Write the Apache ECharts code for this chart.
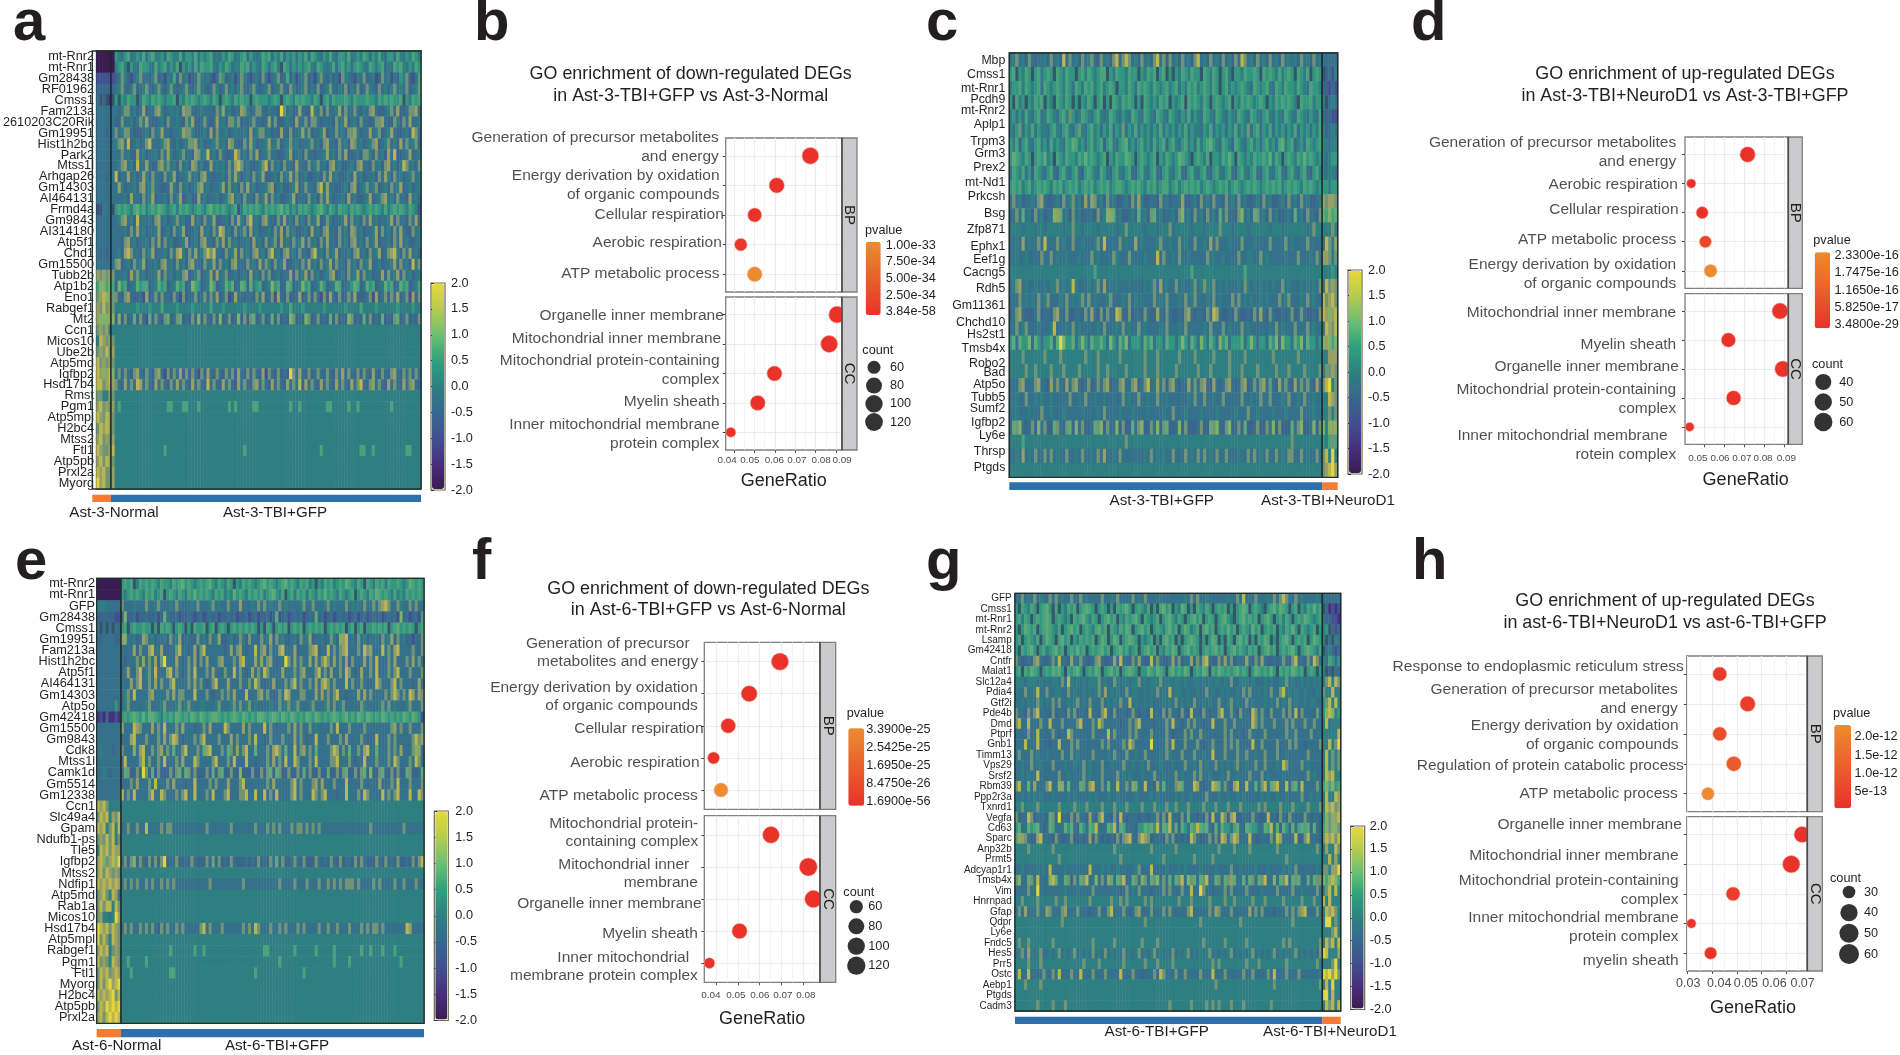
<!DOCTYPE html>
<html><head><meta charset="utf-8">
<style>html,body{margin:0;padding:0;background:#fff}#c{width:1900px;height:1055px;filter:blur(0.35px)}</style>
<script src="https://cdn.jsdelivr.net/npm/echarts@6/dist/echarts.min.js"></script>
</head><body><div id="c"></div>
<script>
// Heat-map cells are eye estimates at reduced column resolution; one character = one cell, see heatLevels.
const heatLevels=[['0',-2,'#3b1c52'],['1',-1.5,'#46307e'],['2',-1,'#41508f'],['d',-0.8,'#33566a'],['3',-0.6,'#3a668c'],['4',-0.3,'#35718b'],['5',0,'#2f7f82'],['6',0.4,'#329680'],['7',0.7,'#4aa27c'],['c',0.85,'#5dab78'],['8',1,'#6f9476'],['g',1.15,'#7fb268'],['9',1.3,'#959f66'],['a',1.6,'#bcb650'],['b',2,'#e3d63c']];
const colorbarStops=['#3b1c52','#46307e','#41508f','#36688e','#2e8080','#2fa07f','#6bbf72','#b4cc50','#e6d83a'];
const colorbarTicks=[-2,2,0.5];

const aGenes=['mt-Rnr2','mt-Rnr1','Gm28438','RF01962','Cmss1','Fam213a','2610203C20Rik','Gm19951','Hist1h2bc','Park2','Mtss1l','Arhgap26','Gm14303','AI464131','Frmd4a','Gm9843','AI314180','Atp5f1','Chd1','Gm15500','Tubb2b','Atp1b2','Eno1','Rabgef1','Mt2','Ccn1','Micos10','Ube2b','Atp5md','Igfbp2','Hsd17b4','Rmst','Pgm1','Atp5mpl','H2bc4','Mtss2','Ftl1','Atp5pb','Prxl2a','Myorg'];
const aNormal=['000000','000000','222222','333333','4d3d1d','444444','444444','444344','444444','444444','444444','444344','444444','444444','d2544d','444444','444444','444444','434344','444444','989898','7gg7g7','89ag98','98a898','9ggg9g','898955','5a9898','898a89','a89898','a9g9ag','aa89a9','885598','9a8989','a98a98','8a9a98','9a8989','a9889a','9a8a98','a9a889','b9a889'];
const aTBI=[
'6546745657 4675564765 5746657465 6745465764 5674654576 7465746564 6574765465 7546657456 5764657546 6475465765',
'5675d65476 6547567465 7d65647576 6754657645 5767465476 4675d76465 6567547654 5746756467 6547656745 4767546576',
'3485324584 4358342547 3845234854 5324863452 4853245384 2458347352 4583425843 5342854325 4834523845 2436583247',
'4584358345 8435843584 3458435854 3485348453 5843584345 8345843853 4583548345 8435483548 3485438453 5845483458',
'6d65766d57 6576765667 d657676567 6576d67657 6766d67666 5676d67657 6766576d67 5766676576 6676657676 7667d65767',
'4358845349 3448953454 5398843454 4438594534 4985348843 5443b84534 9433a54838 4459384484 3548943345 8493348894',
'3384453485 9433453844 5438593348 4349453885 8343584434 9483345439 4483884344 4384593453 8443488943 3853849445',
'8458843334 5384594434 4598853345 3938445345 4453945884 5343943834 5948344593 4484538895 3449458345 9433453a84',
'5894a34534 8a44458943 5345889453 4458453984 3384953445 9458345845 3445845389 4438453984 5345893458 3539484583',
'4484533945 3445384953 4584439845 a45384334a 8453849345 8443345934 5384434459 4538493345 3885384539 4a33459345',
'4589453a44 9433895845 3845398453 4945453849 a84533458a 3845384439 4438458453 8945334538 9443845389 4535a84538',
'a344945349 5384438459 3445845389 4434453849 5345384593 3453845948 3453345384 9453345394 5344538495 3845345845',
'4953445389 4584433495 3845345894 5344593845 3849453445 8934533459 3484438a49 4433453893 4584583453 8459345345',
'4445394438 4593445384 5934533945 3445345894 5384438459 3845334593 4438453849 5344539453 3459345894 5384439453',
'6767657c67 5676c76567 5767656765 7c67676567 2576767657 6767c67565 7676567c65 7657665767 6567676575 6767657652',
'4589453a44 4538945345 8453394538 4593345384 9538a45389 4438494538 4538459348 5344593845 3849453445 9384438493',
'4445384945 3445934538 4593345394 5384a94538 4583945344 5384938453 3453945389 4438453984 5344593845 3849433845',
'4438945344 5384938453 3459345389 4438493845 3445394538 4583945384 5938453849 4438453894 5384593445 3849453345',
'4539a84438 4593445384 9a53849458 a8a4438459 3845389453 8a45389453 84438a4538 4593445389 4538459348 9a53849453',
'8934538459 3445389453 8453894438 4593845389 4438453948 5384593345 3849453845 9384438453 8459345344 5938453a48',
'4445395845 3445938453 5489345834 5939458345 3453945384 8345344938 4593845345 8934538459 3845344938 4593845345',
'3g67345c67 7345c67345 c6734g7634 5g7345c6c3 4c73c56734 5g6734c734 5g67345c63 45c73456c7 34c67345c6 734c673457',
'8438943342 9348384438 4283448348 3849348239 4434438493 4829438334 9348384283 9438348493 3348293483 8493482938',
'5555555655 5655575555 6555565555 5755565555 5565555655 5555655755 5655555565 5555565555 7555565555 5565555655',
'3g3834c383 2c38438c34 8c34383g38 4383g34834 g3838c3483 4c38343g83 43g8348343 c38343g834 3c38343c34 38c3483438',
'5','5','5','5',
'4838438943 8438942838 4938384283 9438438483 9438384392 8438343b84 9438348438 4384938438 3843943843 8943848384',
'8439484a94 8439484384 9484394843 a484394843 9484389484 3948439484 a394843948 4394843948 a438948439 4843948943',
'5',
'5755555555 5555555775 5577555755 5555555757 5555577555 5555555755 7555555557 7555557557 5555555555 7555555555',
'5','5','5',
'5555555555 5555557555 5555555555 5555555555 5575555555 5555555555 5555555755 5555555555 7755755555 5555577555',
'5','5','5'];

const cGenes=['Mbp','Cmss1','mt-Rnr1','Pcdh9','mt-Rnr2','Aplp1','Trpm3','Grm3','Prex2','mt-Nd1','Prkcsh','Bsg','Zfp871','Ephx1','Eef1g','Cacng5','Rdh5','Gm11361','Chchd10','Hs2st1','Tmsb4x','Robo2','Bad','Atp5o','Tubb5','Sumf2','Igfbp2','Ly6e','Thrsp','Ptgds'];
const cGFP=[
'4584538434 4538453a48 4538458438 4538a48a84 5384538a48 3845384538 a453845384 5384a84538 4538453845 4538453845',
'67d6576d67 5676d76576 6d67576567 7d65766576 6d65767d67 d6d6576576 6d76576d67 5d66576676 d767657567 6d7657d676',
'5667576567 4765676576 4765767567 5676d66576 4767657656 7567465767 5676576d67 5656765476 5675476576 6576547665',
'6d756d6576 7d65d76576 d6d6576d67 d6d7657676 d6d7656576 7d6567d767 6576d67656 7d65767656 76d6576767 65d7667566',
'5646475467 4576546758 6457654675 4576546547 6547654765 4765465746 5476547654 6547654765 4675465476 5476546547',
'5468465746 5546754675 4685467564 6574658465 7465646574 6564657465 5465746564 6574658467 4657465646 5746564657',
'6573675467 5647565476 c756467567 3675467c56 4675647567 3675467564 7567c65476 5376546756 4675647c56 7356476567',
'6c76576d67 6c56d76576 6576c67656 7d65766c76 d676567d65 7656c765d6 7657d66576 c6d7656576 676c576d67 6576c67656',
'4765746376 5467436754 6743676547 6436754674 3675467436 7546743675 4674367546 7436754674 3675467436 7546743675',
'6767567567 6765767567 6756767567 6756776567 6765767567 7567567676 7567656767 5676567676 5676767567 6765767656',
'4845344548 9433453845 8453949845 3845334538 4953344384 5344593345 3845384438 4538453345 3845334538 4538453345',
'3484c45384 5344g9c453 8453344384 5g9c453345 3c4538c453 44538g4538 4538453c48 4438g453c8 4538453345 3c45384438',
'4555455545 5455555455 8554555545 5555455855 5554555455 5845555545 5545555855 5455554555 5554555455 5555545855',
'4454945448 4a44484544 8445444584 a444484544 9454444584 4544845448 4454948444 5444844454 4448444484 5444484444',
'4454454444 8448454454 4454448454 4448544484 4445444a48 4454844544 4448454454 4448445544 8454444454 4484445484',
'5555555555 5555555555 5555555755 5555555555 5555555555 5555555575 5555555555 5555575555 5555555555 5555555555',
'4589454454 4545584545 a544454584 9454544454 4445458494 5448454458 4585584545 4445485454 5454544845 4445454548',
'4448454548 4584445484 5458484544 4584445484 5454448454 8444548458 4445484544 4848454544 5454448458 4445484544',
'3489433348 3443894383 3443849438 3843a94383 4438433943 8433438943 44384a9433 4384334384 9438433434 8348433438',
'4484584445 4445a44454 8454444454 8444548454 4845444454 8444548444 4454844484 5444845444 4445484544 4844484544',
'6c4c66g4c6 466c4cbg66 c46g64c66c 64g64c6g46 664c6c4664 c6646g64c6 4g64c64g6c 4666c46g64 664c6g4g66 4c6g4c6646',
'5555855555 5855558555 5555855585 5555585555 5558555855 5555855558 5555585555 8555585555 5555855555 5585555555',
'5555585585 5558555855 5585555585 5855555855 5558555855 5558555555 8555855555 8555855558 5555585558 5555855558',
'4448944489 4439484394 8943483484 8934489448 9348a44948 3894344948 4894394348 9434893484 8948439484 3948484394',
'4454484454 5445444448 4454844544 5444448454 4844544844 5444444548 4484454484 4444844544 8448444548 4454844544',
'4454445444 8445444544 4445444454 8444454445 4444544445 4484445444 4544445444 4454448445 4444544454 4448444544',
'3c8g43483g 4833c8438c 3g48334c8g 3844g3833c 48g3384g38 c334g38333 4833c8g438 g3483c3348 3384g38333 c48g334g38',
'5555755555 5555555555 5555555555 5555555855 5555555555 5555555555 5555555555 5555555555 5555555555 8555555555',
'4454945484 4848454484 4548445484 9445484444 4445484545 4484448454 8484548448 4445448484 5484484548 8448454484',
'5'];
const cNeuroD1=['44444','d3425','33232','5d454','33322','53454','55455','54566','54554','66566','98998','c7g7c','55585','4a859','99858','55565','4a898','a89a8','a9g9a','4a98a','g9g7g','55999','58898','8ab58','55a98','55858','g5g9g','65787','8a5b5','89ab9'];

const eGenes=['mt-Rnr2','mt-Rnr1','GFP','Gm28438','Cmss1','Gm19951','Fam213a','Hist1h2bc','Atp5f1','AI464131','Gm14303','Atp5o','Gm42418','Gm15500','Gm9843','Cdk8','Mtss1l','Camk1d','Gm5514','Gm12338','Ccn1','Slc49a4','Gpam','Ndufb1-ps','Tle5','Igfbp2','Mtss2','Ndfip1','Atp5md','Rab1a','Micos10','Hsd17b4','Atp5mpl','Rabgef1','Pgm1','Ftl1','Myorg','H2bc4','Atp5pb','Prxl2a'];
const eNormal=['00000000','00000000','55544444','33333322','4d4d4d43','43444433','44444444','44444444','44444444','44444444','44444444','44444464','12131121','44444444','44444444','45444344','44444444','44543444','44444444','44444444','a9a85555','8a9a598a','a9a58a5a','898a8a58','5a9a8a99','9ag89agb','9a8a9898','a9a9a9a9','89a85a94','8a8aa5a8','895545b9','ba9a8a98','b8a85a98','9a9a5898','a8985a98','8a9a89a9','8a8ab9ab','a9a9ab8a','8a9babab','9a8ababa'];
const eTBI=[
'6767d57676 7657665767 c67656767c 6576576d65 7676567c67 6567c67657 6756d65767 5676c76576 d765767576 67656c7676',
'6567676576 7567d67657 6576c67676 5767565c67 6576767567 c657d67576 7576576c67 6576567d67 6576c76765 7565767676',
'8444544484 4584445484 4445484445 8454484449 4445484845 4484544445 8448444584 5444845454 8448489a84 4854484844',
'3g33423343 3423c43342 3343234234 3423343423 3423423342 3c23423434 2343c34234 2343423423 4234342343 42g3423427',
'67d6766766 d6d7676d67 6d6d7667d6 7d676d6767 67676d6d76 d6767d6767 d676767d67 6767d67d67 d6676767d6 7c67676d67',
'9g44534984 5344538459 3443384538 4593345348 5384438459 3845334538 4593445348 53g9a45384 5344538459 3845342438',
'4444938449 a44933448a 4434938a44 4444349489 4344a48938 449a444934 4489a344a4 8489a44484 a89444a484 9a44448438',
'4344484948 4938b44494 3484938494 4489444849 a444949489 4344b84948 4494948a84 9484938444 9484a44484 9444849484',
'449438a458 4a4449a484 3484a44484 9444844a48 4349484a84 4449444848 94448a4849 4484a84349 4484a44484 8a44484448',
'444948a448 4948448a44 4484948434 8a44494448 4484a84344 9444848a48 4484949a84 8444a48448 4344a84448 a484443494',
'4584a44448 9444484948 8444a44484 3448484944 4a44489484 3484a94448 8444949484 8a44344494 9484444848 a8484a9498',
'4584444458 4445844458 4584445544 4584445848 4584544445 4484584584 4458444584 8458444448 5444458484 5444584448',
'6767c76c6c c7657676c7 676c76c767 cc76767c76 c7676cc767 c76c76c767 6c76c76767 c767c676c7 6c7676c767 676c76c762',
'9444a98444 9484a44484 9444344849 4444a84444 9484444a48 4344484948 4484544448 4a44484444 8444444448 9484484448',
'4449a44484 4484948a94 3444848a44 4484449484 4484a44348 4448444948 4344a44484 4484944448 4344a44484 8444448a89',
'8444g49a44 8489484c44 8a44484c9a 44484c8494 8a44c44484 9a84c44a48 9484c44448 a9484c4484 9a44c44484 8494448g94',
'4a44448a48 4484a44484 9444a84444 8a44484a44 4a44344484 9484a44a84 4484a44448 8a44484344 a444844484 a844484a84',
'3c83383b83 c38333838c 3c83833383 c38c33833g 333833838c 3c83383383 c3833833c3 3838c33838 c3g338c338 3833c8333c',
'4448494448 4a44484944 4344a44448 4844494448 a444444484 9444448a48 4448949444 8444a44448 4344494448 4a44484448',
'a484a44448 a44a844484 8a44a44484 a4448a4448 8a44a44a48 4a44448a48 444a848a44 4344a44484 a84444a484 8a444a44a8',
'5','5',
'44844844a4 4448488444 4444444484 4444448444 4444844484 8484448488 4848484444 4444444444 4484444444 4448444444',
'5','5',
'3838g38438 3838b34483 3438433383 c383438433 3434383438 4c38334843 8333843438 4383443838 4333843834 383343838a',
'5',
'4848484484 8448484844 4444444448 4444444444 8444444444 4484444844 4844484484 8484888484 4448484444 8448444844',
'5','5','5',
'3848448484 8438484484 8444448a48 4448444444 8484a84448 4484844484 8444484484 4844484448 4848848444 4444a94444',
'5',
'5555555555 5555557555 5555755755 5555555555 5555555775 5555555755 5555755555 7555555557 5575557555 7555555555',
'5575555575 5555555555 5555555555 5555555555 5555555555 5575555555 5555555555 7555575555 5555555555 5575555555',
'5557555555 5555557755 5555555555 5555555555 5555755555 5555555555 7555555555 5555555555 5555555555 5555555555',
'5','5','5','5'];

const gGenes=['GFP','Cmss1','mt-Rnr1','mt-Rnr2','Lsamp','Gm42418','Cntfr','Malat1','Slc12a4','Pdia4','Gtf2i','Pde4b','Dmd','Ptprf','Gnb1','Timm13','Vps29','Srsf2','Rbm39','Ppp2r3a','Txnrd1','Vegfa','Cd63','Sparc','Anp32b','Prmt5','Adcyap1r1','Tmsb4x','Vim','Hnrnpad','Gfap','Qdpr','Ly6e','Fndc5','Hes5','Prr5','Ostc','Aebp1','Ptgds','Cadm3'];
const gGFP=[
'4484548454 4848454484 4845444484 4548444484 5484444544 4444454848 4454444445 4484a44484 4454848a84 4845444454',
'6d76576d67 c6d7d65767 d67c76d676 d6d767c6d6 7657d6d7c6 7d65c7d6d7 6576d6767d 6d67c7d676 5d67c6c76d 67d6576c67',
'67576d6767 c7d67656d7 67c6576d67 c67d65767c 6d76567d67 c6576d67c6 7d676d67c6 5d67c6767d 67c6d67576 d676c76567',
'6d6c767d67 c7657d67c6 7d67657c67 d76576c7d6 7c67d67657 c67d6c7567 d7c67d676c 67d6765c67 d6767d6576 c6d76567d6',
'67d67657d6 c76d7c67d6 576767d6c7 d6c7d67c76 d6567d6d7c 67d6d67c76 d6d6c7d6d7 6d7c67d6d7 6c7d6d67c6 d6767d6c76',
'6d767c6d67 567c67d676 c67d6767c6 7d67c67567 d67c67d657 6c7d67c676 d6767c67d6 7c6765767d 67c67d6767 c6d67c7657',
'8433438943 3484a44394 4843348943 3494a44384 9433a48433 4948344938 49a4338494 8344494384 9433434843 8a44384a84',
'67d76c76d6 76c7c6d767 c6d676c7d6 7c67d67c76 d66c76c76d 7c676c7d67 6c7d76c767 67c676d6c7 676c6d7676 c767d676d6',
'5554555454 5455484a54 5454555845 4485455455 8454555845 5455454455 4545455454 8445554544 4545445584 5445454545',
'5448445a44 8445544845 4454545849 4545448455 4454548454 a455445445 4484544545 4454848445 4548448a45 4544544454',
'4454544854 5484844545 8454844484 5454844a45 4454544454 5484545484 4545448445 8454484544 4545484548 4544545544',
'8443848a44 4383443848 3443a4438a 4383443484 3443a44383 8443843a44 3843448a44 8438443a84 8438444838 4a38444384',
'8a44a44484 4a44484444 8a44484a84 4444344848 a444444448 4a44348484 4344a44484 4844444a84 8444844484 8444844844',
'4444844a44 4484344a84 4444484444 a484444848 4444844448 4344484844 8444444484 8444348444 4844444484 4844448444',
'444a444a44 4344a44484 8444444484 8444484a84 4444b44448 4a44484448 4344844484 8484444a44 8444484448 4844344448',
'4844484544 5444484484 5444484444 5484448445 4484444548 5444844484 4544a44484 4484484454 4844484454 4444484444',
'4454484454 4484445445 4484544484 4544484454 4548444544 4544484454 8454484545 4584454484 4844454a84 4448454444',
'4454544a44 4444844544 4484544484 4448454544 4544484454 4484544484 8445444548 4454448444 8454444544 4444484544',
'8a44c49444 8a44g94c44 4c849a4484 c44a44849c 44a44394c4 4489c444a9 4344a9c484 39a44a44c4 8a4c9a44a4 8c4a444484',
'4454545454 4454444545 4444545444 5445444445 4444545444 4454544544 4484445445 4454544444 5454454454 4448445454',
'5585555855 5555855558 5558555585 5585558555 5855585558 5585558555 5855585558 5558555558 5855558555 8555585558',
'8344a83444 3c83b44383 84439438a4 4383a43444 3443448383 a44383c443 4383a44a83 9a33443843 33a4438438 4343843443',
'6c44c67c43 4c7444c6c4 3c64c7a444 c7a4c74443 66c7c6a4c7 a4c3c64c7a c7c43c4c66 47c43c7664 4c7a4c3c63 c47c7c3c43',
'8g984339a4 4438433483 3434938434 3438389a43 8a98344438 4834343a84 3348383a94 8a9444a433 44384a9443 4a338a4443',
'5555855555 5585555555 5555555555 5585555555 5555855555 5585555555 5555558555 5855558555 5555585555 5555555585',
'5555555555 5555855555 5555555555 5555855555 5555555585 5555555585 5555855555 5555555555 5555555585 5555555555',
'4454444545 4a44445444 4444a44454 5445444445 8444a44445 4445454444 5444454444 8445444454 4454444545 4844444454',
'8g44c84a44 4gac44c838 4c8a44g484 9c4c8a44c8 4g84c8g484 c4c8a4g8c4 c8a44c84c8 9c44c4c84c 8a44g4c8a4 c8c44c4c88',
'4444844b44 4444445444 5444484444 4444348454 8444344484 8444844a44 b844344484 8444484344 5444484444 8445444484',
'5585555855 5558558555 5555855555 5855858555 5585855555 5558555855 5558555585 5855555855 5855555855 5558555855',
'4849444844 9844489444 8444344844 8a44484348 9444844484 8444448a44 4448498444 8444449484 8444344484 8489a44484',
'5555555555 5555585555 5555555555 5555555555 5585555555 5555555555 8555555555 5558555555 5555555555 8555555555',
'5',
'5855855555 5585555555 5555585555 5585555555 5855558555 5555555555 5855555585 5555585555 5555555858 5555555558',
'4584954584 4545845458 4545484548 4545484545 8454584545 4845458454 5458454545 8454545845 4545845454 5845454548',
'5555855585 5555555555 5585555855 5555585555 5585558555 5855555555 5555858555 5555585558 5555555585 5555555585',
'4a44a44448 4484a44484 4a44484448 4444a44484 4344484a84 4484484444 8444a44484 4444844844 4484a44484 4484444445',
'5558555585 5555555555 5555555555 5555555555 5555555555 5555555555 5555585555 5555555555 5555855555 5555555558',
'5',
'5555555855 5585558555 5555555555 5555555555 5555555555 8555555855 5585858555 8555855555 5558555555 5555555555'];
const gNeuroD1=['444444','d31212','433221','56d323','5d4d54','d45323','547646','5d3d43','58a5a8','855a55','68a5a5','6gag56','5a4555','55555a','55a58b','5a5858','5a5858','5a9a55','7g7g67','5a55a9','5a9a89','6g8g9a','7g8gg8','8a9a8a','5955a8','55a595','88599b','g7gag7','58a5a5','a5a555','5a9a85','5bb585','5558a5','5a8a5a','ba5559','5558b5','bab9b8','5a5b55','bb5a55','5a8a5a'];

const bTerms=['Generation of precursor metabolites\nand energy','Energy derivation by oxidation\nof organic compounds','Cellular respiration','Aerobic respiration','ATP metabolic process'];
const bRatio=[0.0774,0.0609,0.0501,0.0433,0.0501];
const bCount=[99,83,69,57,77];
const bP=[1e-45,2e-42,3e-36,8e-35,1e-33];
const bTermsCC=['Organelle inner membrane','Mitochondrial inner membrane','Mitochondrial protein-containing\ncomplex','Myelin sheath','Inner mitochondrial membrane\nprotein complex'];
const bRatioCC=[0.0905,0.0866,0.0598,0.0516,0.0384];
const bCountCC=[99,102,80,80,35];
const bPCC=[1e-50,3.84e-58,1e-45,1e-42,1e-40];
const bTicks=['0.04','0.05','0.06','0.07','0.08','0.09'];
const bPLabels=['3.84e-58','2.50e-34','5.00e-34','7.50e-34','1.00e-33'];
const bCounts=['60','80','100','120'];

const dTerms=['Generation of precursor metabolites\nand energy','Aerobic respiration','Cellular respiration','ATP metabolic process','Energy derivation by oxidation\nof organic compounds'];
const dRatio=[0.0718,0.0436,0.0491,0.0507,0.0533];
const dCount=[55,20,34,34,38];
const dP=[2e-23,1e-20,4e-20,5.8e-17,2.33e-16];
const dTermsCC=['Mitochondrial inner membrane','Myelin sheath','Organelle inner membrane','Mitochondrial protein-containing\ncomplex','Inner mitochondrial membrane  \nrotein complex'];
const dRatioCC=[0.0880,0.0622,0.0894,0.0648,0.0428];
const dCountCC=[60,48,60,50,19];
const dPCC=[3.48e-29,1e-26,1e-28,1e-25,1e-22];
const dTicks=['0.05','0.06','0.07','0.08','0.09'];
const dPLabels=['3.4800e-29','5.8250e-17','1.1650e-16','1.7475e-16','2.3300e-16'];
const dCounts=['40','50','60'];

const fTerms=['Generation of precursor  \nmetabolites and energy','Energy derivation by oxidation\nof organic compounds','Cellular respiration','Aerobic respiration','ATP metabolic process'];
const fRatio=[0.0693,0.0552,0.0456,0.0389,0.0423];
const fCount=[106,91,77,51,69];
const fP=[1e-40,1e-38,1e-30,1e-29,3.39e-25];
const fTermsCC=['Mitochondrial protein-\ncontaining complex','Mitochondrial inner  \nmembrane','Organelle inner membrane','Myelin sheath','Inner mitochondrial  \nmembrane protein complex'];
const fRatioCC=[0.0652,0.0823,0.0846,0.0508,0.0370];
const fCountCC=[99,115,106,83,41];
const fPCC=[1e-38,1.69e-56,1e-50,1e-36,1e-28];
const fTicks=['0.04','0.05','0.06','0.07','0.08'];
const fPLabels=['1.6900e-56','8.4750e-26','1.6950e-25','2.5425e-25','3.3900e-25'];
const fCounts=['60','80','100','120'];

const hTerms=['Response to endoplasmic reticulum stress','Generation of precursor metabolites\nand energy','Energy derivation by oxidation\nof organic compounds','Regulation of protein catabolic process','ATP metabolic process'];
const hRatio=[0.0430,0.0543,0.0430,0.0487,0.0382];
const hCount=[40,48,40,45,33];
const hP=[2e-13,3e-13,7e-13,1e-12,2.2e-12];
const hTermsCC=['Organelle inner membrane','Mitochondrial inner membrane','Mitochondrial protein-containing\ncomplex','Inner mitochondrial membrane\nprotein complex','myelin sheath'];
const hRatioCC=[0.0764,0.0720,0.0484,0.0315,0.0393];
const hCountCC=[53,62,40,18,31];
const hPCC=[5e-15,1e-15,3e-13,2e-14,1e-14];
const hTicks=['0.03','0.04','0.05','0.06','0.07'];
const hPLabels=['5e-13','1.0e-12','1.5e-12','2.0e-12'];
const hCounts=['30','40','50','60'];

const INK='#231f20',FONT='"Liberation Sans",Arial,sans-serif';
const opt={animation:false,backgroundColor:'#fff',textStyle:{fontFamily:FONT},title:[],grid:[],xAxis:[],yAxis:[],series:[],visualMap:[],graphic:{elements:[]}};
const gfx=opt.graphic.elements;
function addGrid(g){opt.grid.push(g);return opt.grid.length-1;}
function addX(a){opt.xAxis.push(a);return opt.xAxis.length-1;}
function addY(a){opt.yAxis.push(a);return opt.yAxis.length-1;}
function addS(s){opt.series.push(s);return opt.series.length-1;}
function addText(text,x,y,size,extra){opt.title.push(Object.assign({text,left:x,top:y,padding:0,textAlign:'left',textVerticalAlign:'middle',textStyle:{color:INK,fontSize:size,fontWeight:'normal',fontFamily:FONT}},extra||{}));}
function decode(s,n){s=s.replace(/ /g,'');return s.padEnd(n,s[s.length-1]).slice(0,n);}

const letterRows=[['a',13,24],['b',474,24],['c',926,24],['d',1411,24],['e',15,563],['f',472,563],['g',926,563],['h',1412,563]];
letterRows.forEach(l=>{opt.title.push({text:l[0],left:l[1],top:l[2],padding:0,textAlign:'left',textVerticalAlign:'middle',textStyle:{color:INK,fontSize:58,fontWeight:'bold',fontFamily:FONT}});});

const levelValue={};heatLevels.forEach(l=>{levelValue[l[0]]=l[1];});
const heatSeries=[];
let stackId=0;
function heat(h){
  const T=h.nFirst+h.nSecond;
  const w=h.x1-h.x0,H=h.y1-h.y0,n=h.genes.length;
  const g=addGrid({left:h.x0,top:h.y0,width:w,height:H,show:true,borderColor:'#20302f',borderWidth:1.3,backgroundColor:'transparent'});
  const xi=addX({type:'category',gridIndex:g,show:false,data:Array.from({length:T},(_,i)=>i),boundaryGap:true});
  const labelStyle={interval:0,margin:h.labelMargin,fontSize:h.labelSize,color:INK,fontFamily:FONT};
  const yi=addY({type:'category',gridIndex:g,inverse:true,position:'left',axisLine:{show:false},axisTick:{show:false},splitLine:{show:false},
    axisLabel:h.labelAt?{show:false}:labelStyle,data:h.genes});
  if(h.labelAt){
    // this panel's gene names sit at uneven heights, so they hang on their own axis measured in row units
    const at=h.labelAt.map((y,i)=>(y-h.y0)/(H/n));
    addY({type:'value',gridIndex:g,inverse:true,position:'left',min:0,max:n,axisLine:{show:false},axisTick:{show:false,customValues:at},splitLine:{show:false},
      axisLabel:Object.assign({},labelStyle,{customValues:at,formatter:v=>h.genes[at.indexOf(v)]})});
  }
  const data=[];
  h.genes.forEach((_,r)=>{
    const s=decode(h.first[r],h.nFirst)+decode(h.second[r]||'5',h.nSecond);
    for(let c=0;c<T;c++){data.push([c,r,levelValue[s[c]]]);}
  });
  heatSeries.push(addS({type:'heatmap',xAxisIndex:xi,yAxisIndex:yi,data,silent:true,progressive:0,itemStyle:{borderWidth:0}}));
  const xd=h.x0+w*h.nFirst/T;
  gfx.push({type:'line',z:50,silent:true,shape:{x1:xd,y1:h.y0,x2:xd,y2:h.y1},style:{stroke:'#1d2a2c',lineWidth:1.6}});
  gfx.push({type:'rect',z:49,silent:true,shape:{x:h.x0,y:h.y0,width:w,height:H},style:{fill:'none',stroke:'#20302f',lineWidth:1.3}});
  // group annotation bar
  const bg=addGrid({left:h.x0,top:h.barY,width:w,height:h.barH,show:false});
  const bx=addX({type:'value',gridIndex:bg,show:false,min:0,max:T});
  const by=addY({type:'category',gridIndex:bg,show:false,data:['group']});
  const st='bar'+(stackId++);
  addS({type:'bar',xAxisIndex:bx,yAxisIndex:by,stack:st,barWidth:'100%',silent:true,data:[h.nFirst],itemStyle:{color:h.firstColor}});
  addS({type:'bar',xAxisIndex:bx,yAxisIndex:by,stack:st,barWidth:'100%',silent:true,data:[h.nSecond],itemStyle:{color:h.secondColor}});
  h.notes.forEach(t=>addText(t[0],t[1],t[2],15.2,{textAlign:'center'}));
  // colour bar
  const cg=addGrid({left:h.cbX-1,top:h.cbY0-1,width:h.cbW+2,height:h.cbY1-h.cbY0+2,show:true,borderColor:'#6f6a4c',borderWidth:1.2});
  const cx=addX({type:'value',gridIndex:cg,show:false,min:0,max:1});
  const cy=addY({type:'value',gridIndex:cg,position:'right',min:colorbarTicks[0],max:colorbarTicks[1],interval:colorbarTicks[2],axisLine:{show:false},splitLine:{show:false},axisTick:{show:true,length:3,lineStyle:{color:'#333'}},axisLabel:{margin:h.cbMargin,fontSize:12.7,color:INK,fontFamily:FONT,formatter:v=>v.toFixed(1)}});
  const host=addS({type:'scatter',xAxisIndex:cx,yAxisIndex:cy,data:[],silent:true});
  opt.visualMap.push({type:'continuous',seriesIndex:host,min:-2,max:2,left:h.cbX,top:h.cbY0,itemWidth:h.cbW,itemHeight:h.cbY1-h.cbY0,padding:0,calculable:false,hoverLink:false,text:null,inRange:{color:colorbarStops}});
}

const ORANGE='#f47c36',BLUE='#2e70ab';
heat({genes:aGenes,first:aNormal,second:aTBI,nFirst:6,nSecond:100,x0:92.3,x1:421,y0:51,y1:489,labelMargin:2.5,labelSize:12.7,barY:494.7,barH:7.3,firstColor:ORANGE,secondColor:BLUE,notes:[['Ast-3-Normal',114,512.7],['Ast-3-TBI+GFP',275,512.7]],cbX:432,cbW:12,cbY0:284,cbY1:489,cbMargin:6});
heat({genes:cGenes,first:cGFP,second:cNeuroD1,nFirst:100,nSecond:5,x0:1009.3,x1:1337.7,y0:53,y1:477.3,labelMargin:4,labelSize:12.3,labelAt:[60.7,74.7,88.7,99.3,110.7,125,141.7,153.7,167.7,182.7,196.7,213.7,229.7,246.7,259.7,272.7,288.3,305.7,322.3,334.7,348.7,363.3,372.7,385,397.7,408.7,422.7,435.7,451.7,467.7],barY:482.3,barH:7.7,firstColor:BLUE,secondColor:ORANGE,notes:[['Ast-3-TBI+GFP',1161.7,501],['Ast-3-TBI+NeuroD1',1328,501]],cbX:1349,cbW:12,cbY0:271,cbY1:473,cbMargin:6});
heat({genes:eGenes,first:eNormal,second:eTBI,nFirst:8,nSecond:100,x0:96.7,x1:424,y0:578.3,y1:1023.3,labelMargin:1.7,labelSize:12.7,barY:1029,barH:8.3,firstColor:ORANGE,secondColor:BLUE,notes:[['Ast-6-Normal',116.7,1046],['Ast-6-TBI+GFP',277,1046]],cbX:435.3,cbW:12,cbY0:812,cbY1:1019.5,cbMargin:7});
heat({genes:gGenes,first:gGFP,second:gNeuroD1,nFirst:100,nSecond:6,x0:1015,x1:1340.7,y0:593.3,y1:1011,labelMargin:3.3,labelSize:10,barY:1016.7,barH:7.3,firstColor:BLUE,secondColor:ORANGE,notes:[['Ast-6-TBI+GFP',1156.7,1032],['Ast-6-TBI+NeuroD1',1330,1032]],cbX:1351.7,cbW:12,cbY0:827,cbY1:1008.5,cbMargin:5});
opt.visualMap.push({type:'piecewise',show:false,seriesIndex:heatSeries,dimension:2,pieces:heatLevels.map(l=>({value:l[1],color:l[2]}))});

function facet(d,name,top,bottom,terms,ratio,count,p,nudges,showX){
  const w=d.x1-d.x0;
  const g=addGrid({left:d.x0,top,width:w,height:bottom-top,show:true,borderColor:'#7f7f7f',borderWidth:1.3,backgroundColor:'#fff'});
  const major=addX({type:'value',gridIndex:g,position:'bottom',min:d.xMin,max:d.xMax,name:showX?'GeneRatio':'',nameLocation:'middle',nameGap:d.nameGap,nameTextStyle:{fontSize:18,color:INK,fontFamily:FONT,verticalAlign:'top',padding:[0,0,0,d.namePad||0]},
    axisLine:{show:false},splitLine:{show:true,lineStyle:{color:'#ececec',width:1.2}},
    axisTick:{show:showX,length:3,lineStyle:{color:'#555'},customValues:d.majors},
    axisLabel:{show:showX,margin:d.tickMargin,fontSize:d.tickSize,color:'#4d4d4d',fontFamily:FONT,customValues:d.labelAt,formatter:v=>d.tickTexts[d.labelAt.indexOf(v)]}});
  const minor=addX({type:'value',gridIndex:g,position:'top',min:d.xMin,max:d.xMax,axisLine:{show:false},axisLabel:{show:false},axisTick:{show:false,customValues:d.minors},splitLine:{show:true,lineStyle:{color:'#f3f3f3',width:0.8}}});
  const ids=terms.map((_,i)=>i+1);
  const y=addY({type:'value',gridIndex:g,inverse:true,min:0.4,max:5.6,axisLine:{show:false},axisLabel:{show:false},axisTick:{show:true,length:3,lineStyle:{color:'#444'},customValues:ids},splitLine:{show:true,lineStyle:{color:'#ececec',width:1.2}}});
  d.dotSeries.push(addS({type:'scatter',xAxisIndex:major,yAxisIndex:y,silent:true,clip:true,symbolSize:v=>d.k*Math.sqrt(v[2]),itemStyle:{borderColor:'rgba(245,170,150,0.55)',borderWidth:1,opacity:1},
    data:terms.map((_,i)=>[ratio[i],i+1,count[i],p[i]])}));
  addS({type:'scatter',xAxisIndex:major,yAxisIndex:y,silent:true,clip:false,symbolSize:1,itemStyle:{color:'transparent'},
    data:terms.map((t,i)=>({value:[d.xMin,i+1],label:{show:true,position:'left',distance:0,offset:[nudges[i][0],nudges[i][1]+1],formatter:()=>t,fontSize:15.5,lineHeight:d.lineHeight,color:INK,fontFamily:FONT}}))});
  gfx.push({type:'rect',z:40,silent:true,shape:{x:d.x1,y:top,width:d.strip-d.x1,height:bottom-top},style:{fill:'#cbcbcd',stroke:'#7f7f7f',lineWidth:1.3}});
  gfx.push({type:'line',z:41,silent:true,shape:{x1:d.x1,y1:top,x2:d.x1,y2:bottom},style:{stroke:'#4d4d4d',lineWidth:1.6}});
  gfx.push({type:'text',z:42,silent:true,x:(d.x1+d.strip)/2,y:(top+bottom)/2,rotation:-Math.PI/2,style:{text:name,font:'15px '+FONT,fill:INK,align:'center',verticalAlign:'middle'}});
}
function dots(d){
  d.dotSeries=[];
  facet(d,'BP',d.bpTop,d.bpBot,d.bp[0],d.bp[1],d.bp[2],d.bp[3],d.bpN,false);
  facet(d,'CC',d.ccTop,d.ccBot,d.cc[0],d.cc[1],d.cc[2],d.cc[3],d.ccN,true);
  addText(d.title,d.titleX,d.titleY,17.9,{textAlign:'center',textStyle:{color:INK,fontSize:17.9,fontWeight:'normal',fontFamily:FONT,lineHeight:d.titleLH}});
  addText('pvalue',d.pTextX,d.pTextY,12.7);
  const pg=addGrid({left:d.pBarX+d.pBarW,top:d.pTickY0,width:1,height:d.pTickY1-d.pTickY0,show:false});
  const px=addX({type:'value',gridIndex:pg,show:false,min:0,max:1});
  const steps=d.pLabels.map((_,i)=>i);
  const py=addY({type:'value',gridIndex:pg,min:0,max:steps.length-1,axisLine:{show:false},splitLine:{show:false},axisTick:{show:false,customValues:steps},position:'right',axisLabel:{margin:d.pMargin,fontSize:12.7,color:INK,fontFamily:FONT,customValues:steps,formatter:v=>d.pLabels[v]}});
  addS({type:'scatter',xAxisIndex:px,yAxisIndex:py,data:[],silent:true});
  opt.visualMap.push({type:'continuous',seriesIndex:d.dotSeries,dimension:3,min:0,max:d.pMax,left:d.pBarX,top:d.pBarY0,itemWidth:d.pBarW,itemHeight:d.pBarY1-d.pBarY0,padding:0,calculable:false,hoverLink:false,text:null,inRange:{color:['#e8322a','#ec8c2e']}});
  addText('count',d.cTextX,d.cTextY,12.7);
  const cg=addGrid({left:d.cX-1,top:d.cY0,width:2,height:d.cY1-d.cY0,show:false});
  const cx=addX({type:'value',gridIndex:cg,show:false,min:-1,max:1});
  const cy=addY({type:'category',gridIndex:cg,inverse:true,boundaryGap:false,position:'right',data:d.counts,axisLine:{show:false},axisTick:{show:false},splitLine:{show:false},axisLabel:{interval:0,margin:d.cMargin,fontSize:12.7,color:INK,fontFamily:FONT}});
  addS({type:'scatter',xAxisIndex:cx,yAxisIndex:cy,silent:true,clip:false,itemStyle:{color:'#000'},data:d.counts.map((c,i)=>({value:[0,c],symbolSize:d.cSizes[i]}))});
}
dots({x0:725.7,x1:842,strip:857,bpTop:138,bpBot:292,ccTop:297,ccBot:450,xMin:0.0359,xMax:0.0929,k:1.68,lineHeight:19,
  majors:[.04,.05,.06,.07,.08,.09],minors:[.045,.055,.065,.075,.085],labelAt:[.0366,.0478,.0598,.0708,.0827,.0929],tickTexts:bTicks,tickSize:9.9,tickMargin:5,nameGap:22,
  bp:[bTerms,bRatio,bCount,bP],bpN:[[-6.4,-9.5],[-5.7,-1.5],[-1.4,-1.3],[-3.4,-3],[-5.7,-2]],
  cc:[bTermsCC,bRatioCC,bCountCC,bPCC],ccN:[[-1.4,0],[-4,-6],[-5.7,-4],[-5.7,-2],[-5.7,1]],
  title:'GO enrichment of down-regulated DEGs\nin Ast-3-TBI+GFP vs Ast-3-Normal',titleX:690.7,titleY:85,titleLH:22,
  pTextX:865,pTextY:230,pBarX:865.7,pBarW:15,pBarY0:241.7,pBarY1:315,pTickY0:245,pTickY1:311.7,pMargin:4,pLabels:bPLabels,pMax:1e-33,
  cTextX:862.3,cTextY:350.7,cX:874,cY0:367.3,cY1:422,cMargin:15,counts:bCounts,cSizes:[13,16,17.3,17.8]});
dots({x0:1685,x1:1788.3,strip:1802.3,bpTop:137,bpBot:288.3,ccTop:293.7,ccBot:444.3,xMin:0.0405,xMax:0.09215,k:2.07,lineHeight:19,
  majors:[.05,.06,.07,.08,.09],minors:[.045,.055,.065,.075,.085],labelAt:[.0469,.058,.0689,.0795,.0912],tickTexts:dTicks,tickSize:9.9,tickMargin:9.4,nameGap:27,namePad:18,
  bp:[dTerms,dRatio,dCount,dP],bpN:[[-8.3,-3],[-6.7,0],[-6,-4],[-8.3,-3],[-8.3,2]],
  cc:[dTermsCC,dRatioCC,dCountCC,dPCC],ccN:[[-8.3,1],[-8.3,4],[-5.7,-3],[-8.3,0],[-8.3,17]],
  title:'GO enrichment of up-regulated DEGs\nin Ast-3-TBI+NeuroD1 vs Ast-3-TBI+GFP',titleX:1685,titleY:85,titleLH:22,
  pTextX:1813.3,pTextY:240,pBarX:1814.7,pBarW:15.3,pBarY0:252.3,pBarY1:328.3,pTickY0:255.7,pTickY1:324.3,pMargin:4.3,pLabels:dPLabels,pMax:2.33e-16,
  cTextX:1812,cTextY:364,cX:1823.3,cY0:382,cY1:422,cMargin:15,counts:dCounts,cSizes:[16,17.3,18.3]});
dots({x0:704.3,x1:820,strip:835.7,bpTop:642.3,bpBot:809.3,ccTop:815.7,ccBot:982.3,xMin:0.03465,xMax:0.08764,k:1.68,lineHeight:18,
  majors:[.04,.05,.06,.07,.08],minors:[.045,.055,.065,.075,.085],labelAt:[.0377,.0491,.0601,.0706,.0812],tickTexts:fTicks,tickSize:9.9,tickMargin:7.7,nameGap:28,
  bp:[fTerms,fRatio,fCount,fP],bpN:[[-5.6,-9.7],[-6,2],[-.3,2.4],[-4.3,4],[-6,4.7]],
  cc:[fTermsCC,fRatioCC,fCountCC,fPCC],ccN:[[-5.6,-3],[-6,6],[-2.3,4],[-6,2],[-6,3]],
  title:'GO enrichment of down-regulated DEGs\nin Ast-6-TBI+GFP vs Ast-6-Normal',titleX:708.3,titleY:600,titleLH:21,
  pTextX:846.7,pTextY:713,pBarX:848.3,pBarW:16,pBarY0:728.3,pBarY1:805.7,pTickY0:729.7,pTickY1:801.3,pMargin:1,pLabels:fPLabels,pMax:3.39e-25,
  cTextX:843.3,cTextY:892.3,cX:856.3,cY0:906.7,cY1:965.7,cMargin:11,counts:fCounts,cSizes:[13.3,16,17.3,18.3]});
dots({x0:1686.7,x1:1807.3,strip:1822.3,bpTop:656,bpBot:811.7,ccTop:816.7,ccBot:971,xMin:0.0296,xMax:0.0785,k:2.2,lineHeight:19,
  majors:[.03,.04,.05,.06,.07],minors:[.035,.045,.055,.065,.075],labelAt:[.0302,.0428,.0536,.0652,.0766],tickTexts:hTicks,tickSize:12.5,tickMargin:6.4,nameGap:28,namePad:12,
  bp:[hTerms,hRatio,hCount,hP],bpN:[[-2.4,-8],[-8.4,-6],[-7.7,0],[-2.4,1.3],[-8.4,-1]],
  cc:[hTermsCC,hRatioCC,hCountCC,hPCC],ccN:[[-4.4,-10.7],[-7.7,-9.3],[-7.7,-5],[-7.7,3],[-7.7,6.3]],
  title:'GO enrichment of up-regulated DEGs\nin ast-6-TBI+NeuroD1 vs ast-6-TBI+GFP',titleX:1665,titleY:611.7,titleLH:22,
  pTextX:1833,pTextY:713,pBarX:1834.3,pBarW:16.7,pBarY0:725,pBarY1:808.3,pTickY0:736.7,pTickY1:791.7,pMargin:3.3,pLabels:hPLabels,pMax:2.2e-12,
  cTextX:1830,cTextY:878.3,cX:1849,cY0:892,cY1:954,cMargin:14,counts:hCounts,cSizes:[12.7,17.3,19,20]});

const chart=echarts.init(document.getElementById('c'),null,{renderer:'canvas'});
chart.setOption(opt);
</script></body></html>
